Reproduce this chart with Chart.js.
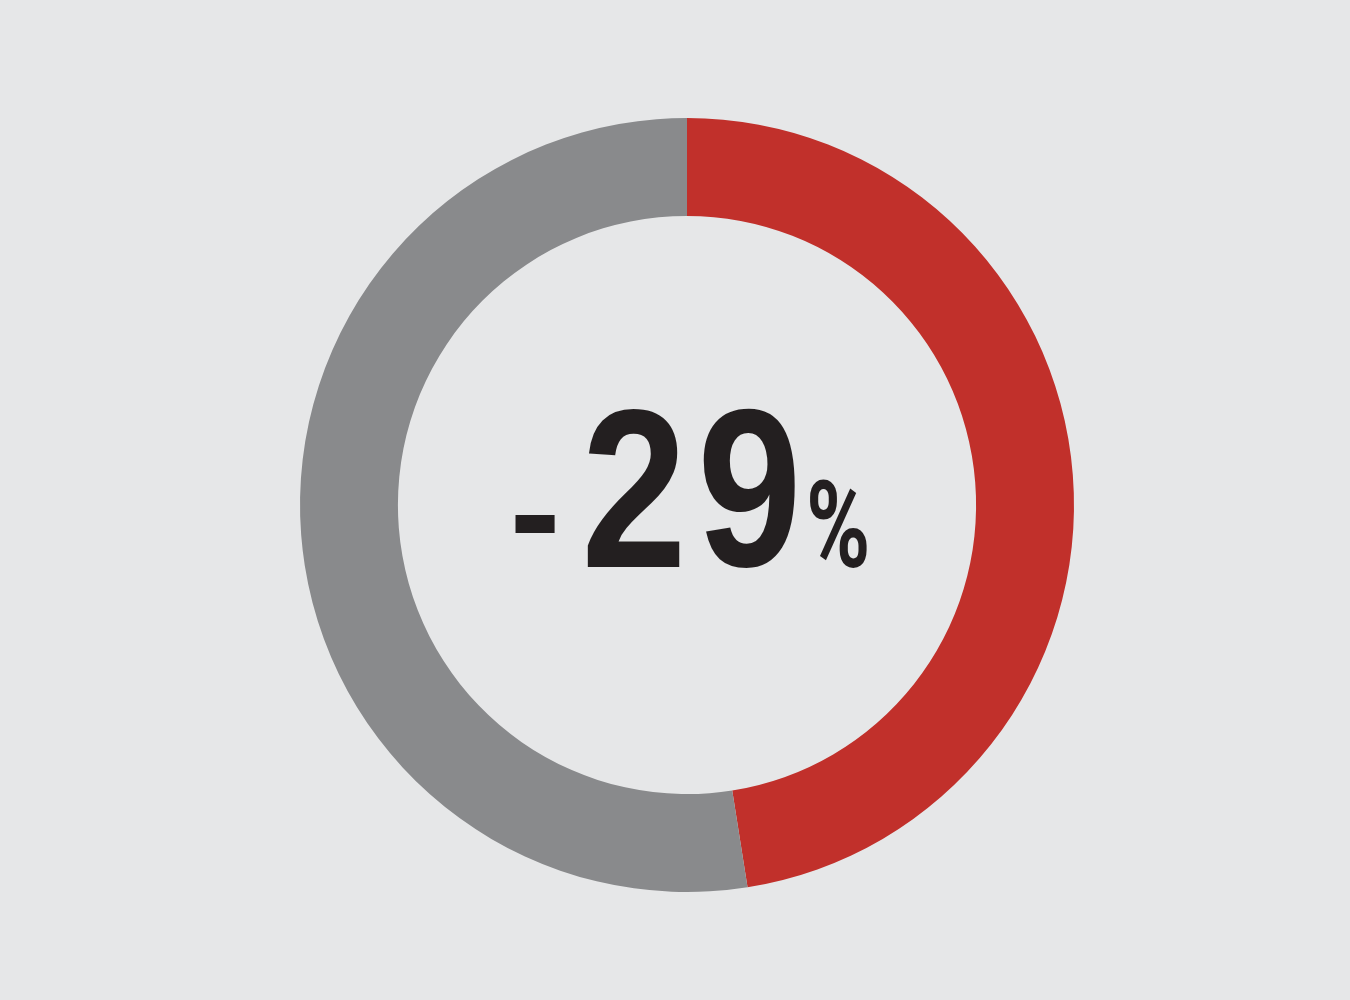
<!DOCTYPE html>
<html>
<head>
<meta charset="utf-8">
<script src="https://cdn.jsdelivr.net/npm/chart.js@4.4.1/dist/chart.umd.min.js"></script>
<style>
  html, body { margin: 0; padding: 0; background: #e6e7e8; }
  #wrap { width: 1350px; height: 1000px; position: relative; }
</style>
</head>
<body>
<div id="wrap"><canvas id="donut"></canvas></div>
<script>
const segmentLabels = ['Change', 'Rest'];
const segmentValues = [47.5, 52.5];
const segmentColors = ['#c1302b', '#898a8c'];
const centerText = '-29%';

// each glyph of the centre label is fitted into an ink box (offsets from the doughnut centre)
const glyphBoxes = [
    { t: '-', x0: -172, x1: -132, y0: 10, y1: 28, font: 'bold 200px "Liberation Sans", Arial, sans-serif' },
    { t: '2', x0: -100, x1: -7, y0: -97, y1: 62, font: 'bold 200px "Liberation Sans", Arial, sans-serif' },
    { t: '9', x0: 16, x1: 108, y0: -97, y1: 63, font: 'bold 200px "Liberation Sans", Arial, sans-serif' },
    { t: '%', x0: 123, x1: 180, y0: -25, y1: 63, font: 'bold 200px Roboto, "Liberation Sans", sans-serif' }
];

const centerLabel = {
    id: 'centerLabel',
    afterDraw(chart) {
        const arc = chart.getDatasetMeta(0).data[0];
        if (!arc) return;
        const ctx = chart.ctx;
        const chars = Array.from(centerText);
        ctx.save();
        ctx.fillStyle = '#231f20';
        ctx.textAlign = 'left';
        ctx.textBaseline = 'alphabetic';
        glyphBoxes.forEach((g, i) => {
            const ch = chars[i] || g.t;
            ctx.font = g.font;
            const m = ctx.measureText(ch);
            const w = m.actualBoundingBoxLeft + m.actualBoundingBoxRight;
            const h = m.actualBoundingBoxAscent + m.actualBoundingBoxDescent;
            const sx = (g.x1 - g.x0) / w;
            const sy = (g.y1 - g.y0) / h;
            ctx.save();
            ctx.translate(arc.x + g.x0, arc.y + g.y0);
            ctx.scale(sx, sy);
            ctx.fillText(ch, m.actualBoundingBoxLeft, m.actualBoundingBoxAscent);
            ctx.restore();
        });
        ctx.restore();
    }
};

new Chart(document.getElementById('donut').getContext('2d'), {
    type: 'doughnut',
    data: {
        labels: segmentLabels,
        datasets: [{
            data: segmentValues,
            backgroundColor: segmentColors,
            borderWidth: 0,
            hoverOffset: 0
        }]
    },
    options: {
        responsive: true,
        maintainAspectRatio: false,
        animation: false,
        cutout: '74.7%',
        layout: { padding: { top: 118, bottom: 108, left: 300, right: 276 } },
        plugins: {
            legend: { display: false },
            tooltip: { enabled: false }
        }
    },
    plugins: [centerLabel]
});
</script>
</body>
</html>
